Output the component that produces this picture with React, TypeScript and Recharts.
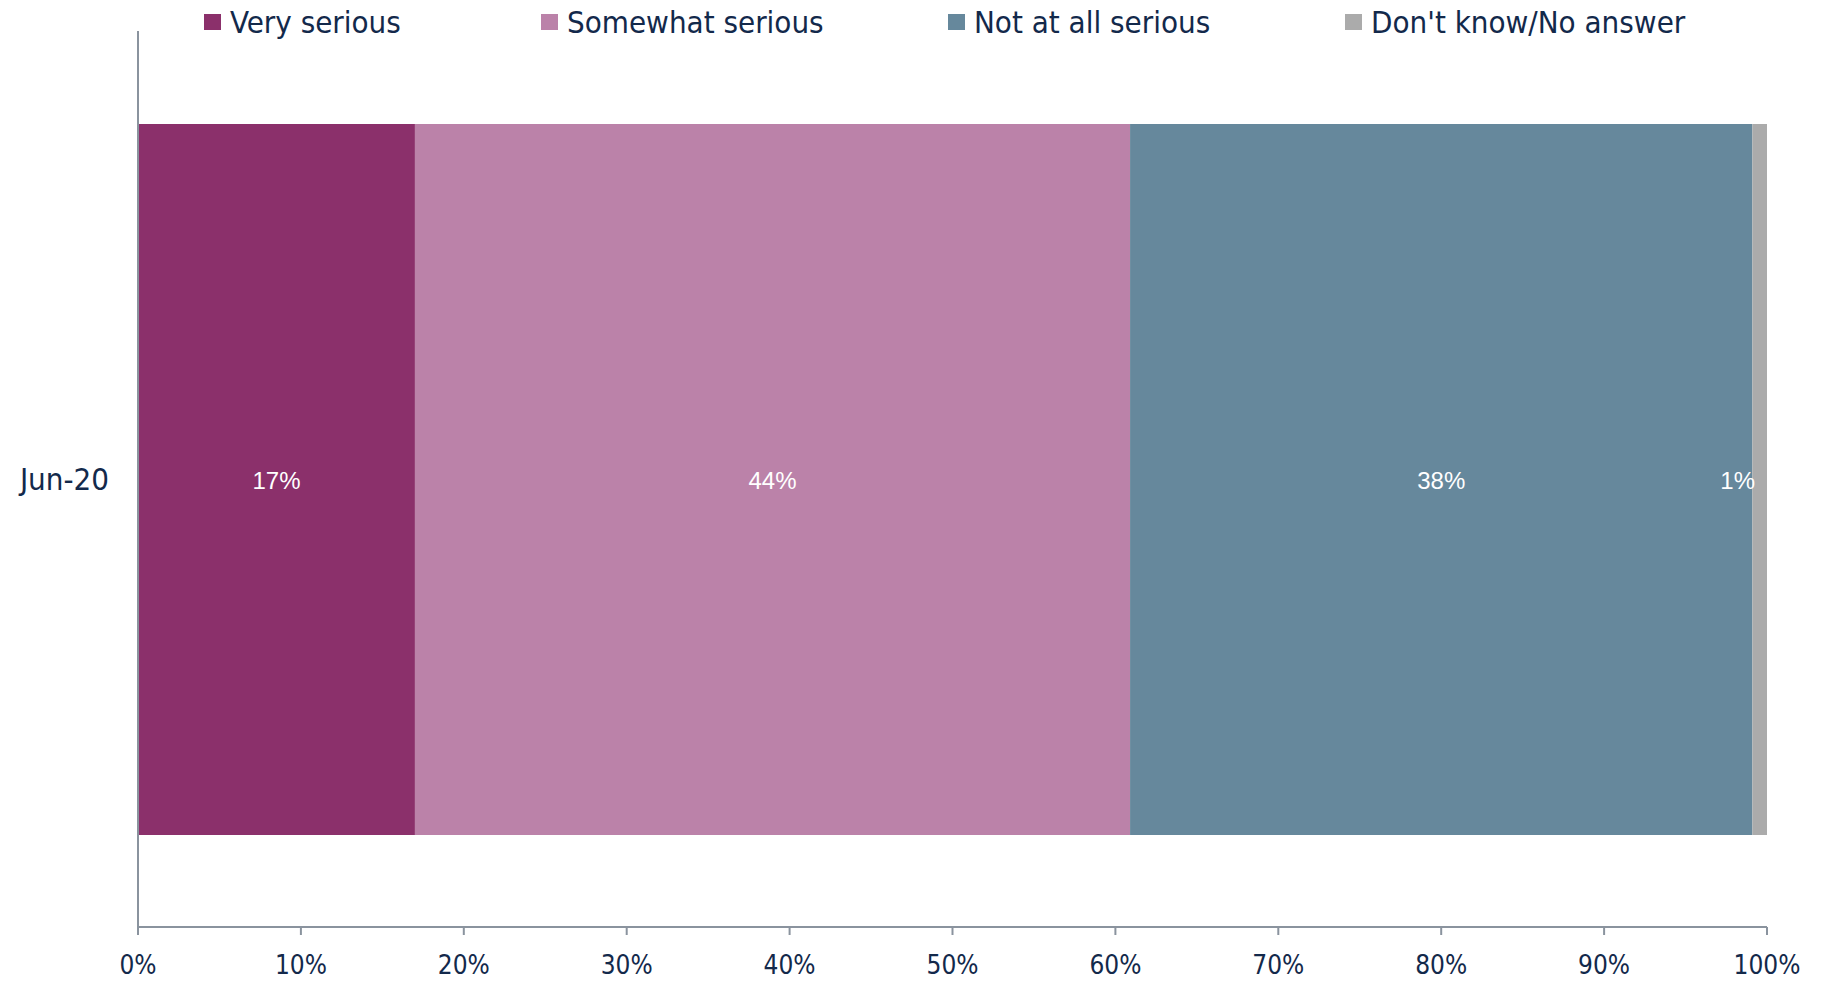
import React from 'react';
import { BarChart, Bar, XAxis, YAxis, Legend, LabelList } from 'recharts';

const categories = ['Jun-20'];
const verySerious = [17.0];
const somewhatSerious = [43.9];
const notAtAllSerious = [38.2];
const dontKnow = [0.9];
const xTicks = [0, 10, 20, 30, 40, 50, 60, 70, 80, 90, 100];

const seriesNames = ['Very serious', 'Somewhat serious', 'Not at all serious', "Don't know/No answer"];
const seriesKeys = ['very', 'somewhat', 'notAtAll', 'dontKnow'];
const seriesColors = ['#8B306B', '#BB82A9', '#66889C', '#ABABAB'];

const data = categories.map((c, i) => ({
  cat: c,
  very: verySerious[i],
  somewhat: somewhatSerious[i],
  notAtAll: notAtAllSerious[i],
  dontKnow: dontKnow[i],
}));

const TEXT = '#13294B';
const AXIS = '#8A939E';
const FONT = '"DejaVu Sans Condensed", "DejaVu Sans", sans-serif';

const legendX = [204, 541, 948, 1345];

const renderLegend = () => (
  <svg width={1823} height={46} style={{ display: 'block', overflow: 'visible' }}>
    {seriesNames.map((n, i) => (
      <g key={n}>
        <rect x={legendX[i]} y={14} width={17} height={16} fill={seriesColors[i]} />
        <text x={legendX[i] + 26} y={22} dominantBaseline="central" fontFamily={FONT} fontSize={31} fill={TEXT}>
          {n}
        </text>
      </g>
    ))}
  </svg>
);

const SegLabel = (props: any) => {
  const { x, y, width, height, value } = props;
  const small = width < 30;
  return (
    <text
      x={small ? x + width - 12 : x + width / 2}
      y={y + height / 2 + 1}
      textAnchor={small ? 'end' : 'middle'}
      dominantBaseline="central"
      fill="#FFFFFF"
      fontFamily='"Liberation Sans", Arial, sans-serif'
      fontSize={24}
    >
      {Math.round(value)}%
    </text>
  );
};

export default function App() {
  return (
    <div style={{ position: 'absolute', top: 0, left: 0, width: 1823, height: 985 }}>
      <BarChart
        width={1823}
        height={985}
        data={data}
        layout="vertical"
        margin={{ top: 31, right: 56, left: 28, bottom: 0 }}
        barSize={711}
      >
        <Legend
          verticalAlign="top"
          content={renderLegend}
          wrapperStyle={{ position: 'absolute', top: 0, left: 0, width: 1823, height: 0, overflow: 'visible' }}
        />
        <XAxis
          type="number"
          domain={[0, 100]}
          ticks={xTicks}
          tickFormatter={(v: number) => `${v}%`}
          axisLine={{ stroke: AXIS, strokeWidth: 2 }}
          tickLine={{ stroke: AXIS, strokeWidth: 2 }}
          tickSize={8}
          tickMargin={21}
          height={58}
          interval={0}
          tick={{ fill: TEXT, fontSize: 26, fontFamily: FONT }}
        />
        <YAxis
          type="category"
          dataKey="cat"
          width={110}
          axisLine={{ stroke: AXIS, strokeWidth: 2 }}
          tickLine={false}
          tickSize={0}
          tickMargin={29}
          tick={{ fill: TEXT, fontSize: 31, fontFamily: FONT }}
        />
        {seriesKeys.map((k, i) => (
          <Bar key={k} dataKey={k} name={seriesNames[i]} stackId="a" fill={seriesColors[i]} isAnimationActive={false}>
            <LabelList dataKey={k} content={SegLabel} />
          </Bar>
        ))}
      </BarChart>
    </div>
  );
}
